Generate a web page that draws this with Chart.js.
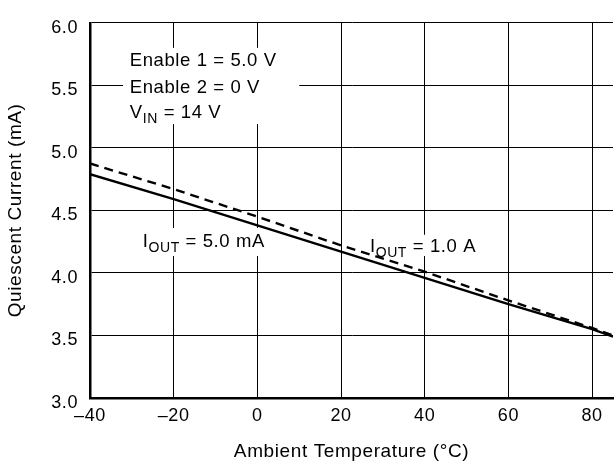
<!DOCTYPE html>
<html>
<head>
<meta charset="utf-8">
<script src="https://cdn.jsdelivr.net/npm/chart.js@4.4.1/dist/chart.umd.min.js"></script>
<style>
html,body{margin:0;padding:0;background:#fff;}
#wrap{width:614px;height:463px;position:relative;}
</style>
</head>
<body>
<div id="wrap"><canvas id="chartQ"></canvas></div>
<script>
// Quiescent current vs ambient temperature
const temps  = [-40, -20, 0, 20, 40, 60, 80, 85];
const iq5mA  = [4.79, 4.59, 4.38, 4.17, 3.96, 3.75, 3.55, 3.49];   // solid
const iq1A   = [4.875, 4.67, 4.45, 4.22, 4.01, 3.78, 3.56, 3.50];  // dashed
const xRange = [-40, 85];
const yRange = [3.0, 6.0];

const FONT = "'Liberation Sans', Arial, Helvetica, sans-serif";
const INK = "#000";

Chart.defaults.font.family = FONT;
Chart.defaults.color = INK;

function pts(xs, ys){ return xs.map((x,i)=>({x, y: ys[i]})); }

// texto con subindices: parts = [[texto, esSub], ...]
function drawRich(ctx, x, yMid, parts, size){
  const base = yMid + size*0.36;
  let cx = x;
  for (const [t, sub] of parts){
    ctx.font = (sub ? 14 : size) + "px " + FONT;
    ctx.fillText(t, cx, sub ? base + 5 : base);
    cx += ctx.measureText(t).width;
  }
}

// cajas blancas y textos, en coordenadas de datos
const boxes = [
  { x0:-32.1, x1:10.0, y0:5.80, y1:5.19 },
  { x0:-28.6, x1:3.5,  y0:4.36, y1:4.135 },
  { x0:25.7,  x1:54.0, y0:4.305, y1:4.135 }
];
const notes = [
  { x:-30.5, y:5.711, parts:[["Enable 1 = 5.0 V",false]] },
  { x:-30.5, y:5.492, parts:[["Enable 2 = 0 V",false]] },
  { x:-30.5, y:5.289, parts:[["V",false],["IN",true],[" = 14 V",false]] },
  { x:-27.4, y:4.262, parts:[["I",false],["OUT",true],[" = 5.0 mA",false]] },
  { x:26.9,  y:4.223, parts:[["I",false],["OUT",true],[" = 1.0 A",false]] }
];

const spacing = {
  id:"spacing",
  beforeUpdate(c){ c.ctx.letterSpacing = "0.6px"; },
  beforeDraw(c){ c.ctx.letterSpacing = "0.6px"; }
};

const labels = {
  id:"labels",
  beforeDatasetsDraw(c){
    const {ctx, scales:{x, y}} = c;
    ctx.save();
    ctx.fillStyle = "#fff";
    for (const b of boxes){
      const px0 = x.getPixelForValue(b.x0), px1 = x.getPixelForValue(b.x1);
      const py0 = y.getPixelForValue(b.y0), py1 = y.getPixelForValue(b.y1);
      ctx.fillRect(px0, py0, px1-px0, py1-py0);
    }
    ctx.restore();
  },
  afterDatasetsDraw(c){
    const {ctx, scales:{x, y}} = c;
    ctx.save();
    ctx.fillStyle = INK;
    ctx.textAlign = "left";
    ctx.textBaseline = "alphabetic";
    for (const n of notes){
      drawRich(ctx, x.getPixelForValue(n.x), y.getPixelForValue(n.y), n.parts, 18.5);
    }
    ctx.restore();
  }
};

new Chart(document.getElementById("chartQ").getContext("2d"), {
  type: "scatter",
  data: {
    datasets: [
      { label:"IOUT = 5.0 mA", data: pts(temps, iq5mA), showLine:true, borderColor:INK,
        borderWidth:2.4, pointRadius:0, tension:0, fill:false },
      { label:"IOUT = 1.0 A", data: pts(temps, iq1A), showLine:true, borderColor:INK,
        borderWidth:2.4, borderDash:[9,6], pointRadius:0, tension:0, fill:false }
    ]
  },
  options: {
    responsive:true,
    maintainAspectRatio:false,
    animation:false,
    layout:{ padding:{ top:13, right:1, left:0, bottom:0 } },
    plugins:{ legend:{ display:false }, tooltip:{ enabled:false } },
    scales:{
      x:{
        type:"linear", min:xRange[0], max:xRange[1],
        afterFit(s){ s.height = 65; },
        border:{ color:INK, width:2.5 },
        grid:{ color:INK, lineWidth:1, drawTicks:false },
        ticks:{ stepSize:20, includeBounds:false, padding:7, color:INK,
                font:{ size:18 }, maxRotation:0,
                callback:v => v < 0 ? "\u2013" + Math.abs(v) : "" + v },
        title:{ display:true, text:"Ambient Temperature (\u00B0C)", color:INK,
                font:{ size:19 }, padding:{ top:0, bottom:0 } }
      },
      y:{
        min:yRange[0], max:yRange[1],
        afterFit(s){ s.width = 90; },
        border:{ color:INK, width:2.5 },
        grid:{ color:INK, lineWidth:1, drawTicks:false },
        ticks:{ stepSize:0.5, padding:12, labelOffset:5, color:INK,
                font:{ size:18 }, callback:v => v.toFixed(1) },
        title:{ display:true, text:"Quiescent Current (mA)", color:INK,
                font:{ size:19 }, padding:{ top:4, bottom:0 } }
      }
    }
  },
  plugins:[spacing, labels]
});
</script>
</body>
</html>
